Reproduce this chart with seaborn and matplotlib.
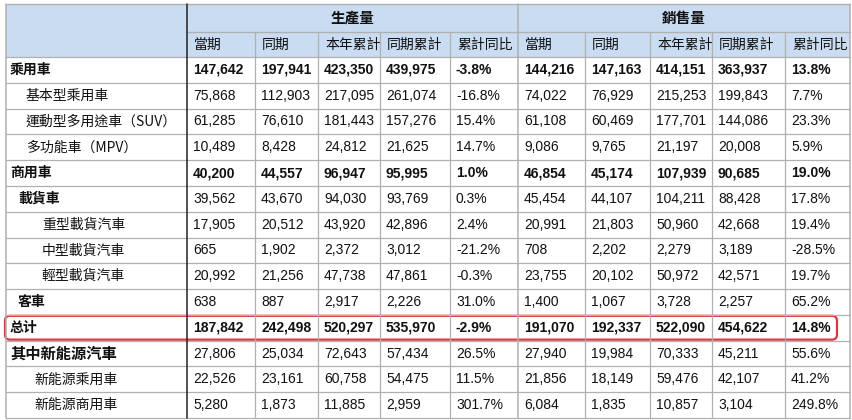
import matplotlib
matplotlib.use("Agg")
import matplotlib.pyplot as plt
import seaborn as sns
from matplotlib.patches import Rectangle, FancyBboxPatch

sns.set_theme(style="white")
plt.rcParams['font.family'] = ['Noto Sans CJK TC', 'DejaVu Sans']

groups = ["生產量", "銷售量"]
sub_cols = ["當期", "同期", "本年累計", "同期累計", "累計同比"]
row_labels = ["乘用車", "基本型乘用車", "運動型多用途車（SUV）", "多功能車（MPV）", "商用車", "載貨車",
              "重型載貨汽車", "中型載貨汽車", "輕型載貨汽車", "客車", "总计", "其中新能源汽車",
              "新能源乘用車", "新能源商用車"]
indent = [0, 1, 1, 1, 0, 0.5, 2, 2, 2, 0.5, 0, 0, 1.5, 1.5]
label_bold = [True, False, False, False, True, True, False, False, False, True, True, True, False, False]
num_bold = [True, False, False, False, True, False, False, False, False, False, True, False, False, False]
prod = [
    ["147,642", "197,941", "423,350", "439,975", "-3.8%"],
    ["75,868", "112,903", "217,095", "261,074", "-16.8%"],
    ["61,285", "76,610", "181,443", "157,276", "15.4%"],
    ["10,489", "8,428", "24,812", "21,625", "14.7%"],
    ["40,200", "44,557", "96,947", "95,995", "1.0%"],
    ["39,562", "43,670", "94,030", "93,769", "0.3%"],
    ["17,905", "20,512", "43,920", "42,896", "2.4%"],
    ["665", "1,902", "2,372", "3,012", "-21.2%"],
    ["20,992", "21,256", "47,738", "47,861", "-0.3%"],
    ["638", "887", "2,917", "2,226", "31.0%"],
    ["187,842", "242,498", "520,297", "535,970", "-2.9%"],
    ["27,806", "25,034", "72,643", "57,434", "26.5%"],
    ["22,526", "23,161", "60,758", "54,475", "11.5%"],
    ["5,280", "1,873", "11,885", "2,959", "301.7%"],
]
sales = [
    ["144,216", "147,163", "414,151", "363,937", "13.8%"],
    ["74,022", "76,929", "215,253", "199,843", "7.7%"],
    ["61,108", "60,469", "177,701", "144,086", "23.3%"],
    ["9,086", "9,765", "21,197", "20,008", "5.9%"],
    ["46,854", "45,174", "107,939", "90,685", "19.0%"],
    ["45,454", "44,107", "104,211", "88,428", "17.8%"],
    ["20,991", "21,803", "50,960", "42,668", "19.4%"],
    ["708", "2,202", "2,279", "3,189", "-28.5%"],
    ["23,755", "20,102", "50,972", "42,571", "19.7%"],
    ["1,400", "1,067", "3,728", "2,257", "65.2%"],
    ["191,070", "192,337", "522,090", "454,622", "14.8%"],
    ["27,940", "19,984", "70,333", "45,211", "55.6%"],
    ["21,856", "18,149", "59,476", "42,107", "41.2%"],
    ["6,084", "1,835", "10,857", "3,104", "249.8%"],
]

W, H = 852, 420
fig = plt.figure(figsize=(8.52, 4.2), dpi=100)
ax = fig.add_axes([0, 0, 1, 1])
ax.set_xlim(0, W); ax.set_ylim(H, 0); ax.axis("off")

xs = [6, 187, 255, 318, 380, 450, 518, 585, 650, 712, 785, 850]
y_top, h1, h2 = 4, 28, 25
y_data = y_top + h1 + h2
rh = (H - 2 - y_data) / len(row_labels)
ys = [y_data + i * rh for i in range(len(row_labels) + 1)]

hdr = "#c9dcf2"
grid = "#b0b0b0"
numfont = ['Liberation Sans', 'DejaVu Sans']
ax.add_patch(Rectangle((xs[0], y_top), xs[-1] - xs[0], h1 + h2, facecolor=hdr, edgecolor="none"))
for g, name in enumerate(groups):
    x0, x1 = xs[1 + 5 * g], xs[6 + 5 * g]
    ax.text((x0 + x1) / 2, y_top + h1 / 2, name, ha="center", va="center", fontsize=10.5, fontweight="bold", color="#111")
    for j, c in enumerate(sub_cols):
        ax.text(xs[1 + 5 * g + j] + 7, y_top + h1 + h2 / 2, c, ha="left", va="center", fontsize=10, color="#111")

ax.plot([xs[0], xs[-1]], [y_top, y_top], color=grid, lw=1)
ax.plot([xs[1], xs[-1]], [y_top + h1, y_top + h1], color=grid, lw=1)
for y in ys:
    ax.plot([xs[0], xs[-1]], [y, y], color=grid, lw=0.9)
for i, x in enumerate(xs):
    if i in (0, 1, 6, 11):
        ax.plot([x, x], [y_top, ys[-1]], color="#222" if i == 1 else grid, lw=1.1)
    else:
        ax.plot([x, x], [y_top + h1, ys[-1]], color=grid, lw=0.9)

for r, lab in enumerate(row_labels):
    yc = (ys[r] + ys[r + 1]) / 2
    fs = 11 if r == 11 else 10
    ax.text(xs[0] + 4 + indent[r] * 16, yc, lab, ha="left", va="center", fontsize=fs,
            fontweight="bold" if label_bold[r] else "normal", color="#111")
    for g, data in enumerate((prod, sales)):
        for j, v in enumerate(data[r]):
            ax.text(xs[1 + 5 * g + j] + 6, yc, v, ha="left", va="center", fontsize=10, family=numfont,
                    fontweight="bold" if num_bold[r] else "normal", color="#111")

r = 10
ax.add_patch(FancyBboxPatch((xs[0] - 1, ys[r] + 1), xs[-1] - xs[0] - 12, rh - 2,
                            boxstyle="round,pad=0,rounding_size=5", facecolor="none",
                            edgecolor="#d9363e", lw=1.6))

fig.savefig("out.png", dpi=100)
